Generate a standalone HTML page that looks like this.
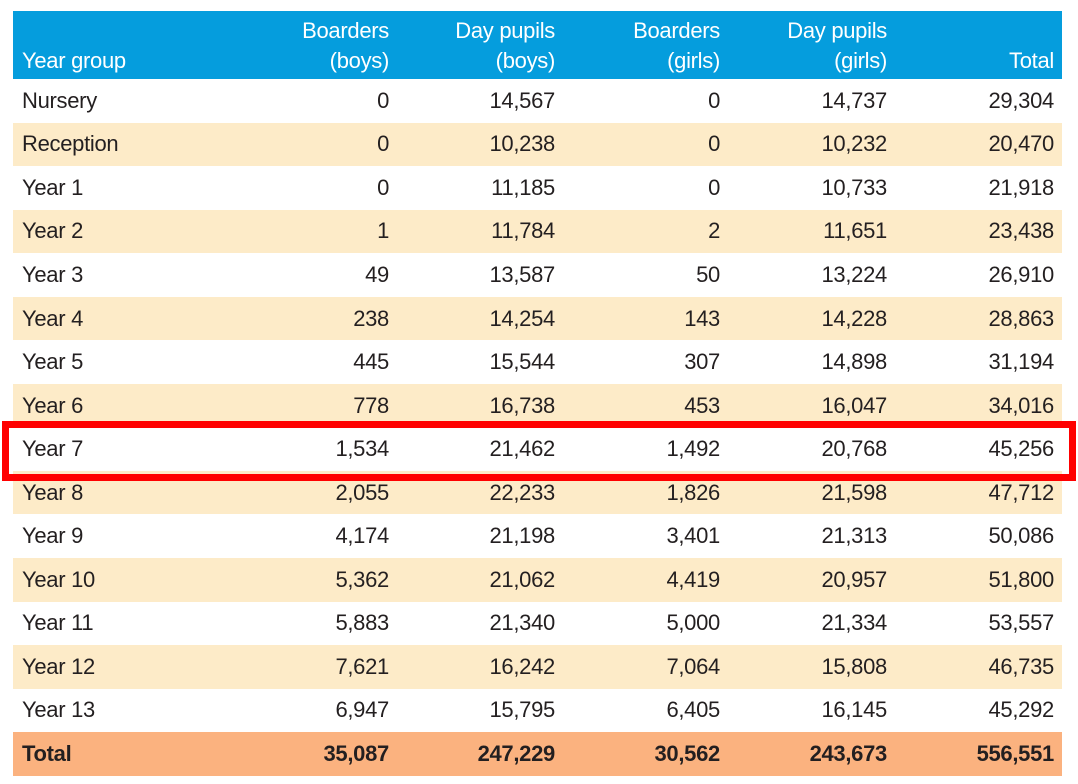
<!DOCTYPE html>
<html><head><meta charset="utf-8"><style>
body{margin:0;width:1078px;height:784px;background:#fff;position:relative;font-family:"Liberation Sans",sans-serif;color:#231f20;overflow:hidden}
table{position:absolute;left:13px;top:11px;width:1049px;border-collapse:collapse;table-layout:fixed}
td,th{padding:0;font-size:22px;letter-spacing:-0.3px;white-space:nowrap}
th{background:#059ddd;color:#fff;font-weight:normal;height:65px;vertical-align:bottom;line-height:30px;padding-bottom:3px;text-align:right}
tbody td{height:43.56px;text-align:right}
td.l,th.l{text-align:left;padding-left:9px}
.c1{width:376px}.c{width:166px}
.r{padding-right:8px}
tbody tr:nth-child(even){background:#fdebc8}
tr.tot{background:#fbb27f!important;font-weight:bold}
#hl{position:absolute;left:2px;top:421px;width:1060px;height:46px;border:7px solid #f00;}
</style></head><body>
<table>
<colgroup><col style="width:118px"><col style="width:258px"><col style="width:166px"><col style="width:165px"><col style="width:167px"><col style="width:175px"></colgroup>
<thead><tr>
<th class="l">Year group</th>
<th>Boarders<br>(boys)</th>
<th>Day pupils<br>(boys)</th>
<th>Boarders<br>(girls)</th>
<th>Day pupils<br>(girls)</th>
<th class="r">Total</th>
</tr></thead>
<tbody id="tb"></tbody>
</table>
<div id="hl"></div>
<script>
const rows=[["Nursery","0","14,567","0","14,737","29,304"],["Reception","0","10,238","0","10,232","20,470"],["Year 1","0","11,185","0","10,733","21,918"],["Year 2","1","11,784","2","11,651","23,438"],["Year 3","49","13,587","50","13,224","26,910"],["Year 4","238","14,254","143","14,228","28,863"],["Year 5","445","15,544","307","14,898","31,194"],["Year 6","778","16,738","453","16,047","34,016"],["Year 7","1,534","21,462","1,492","20,768","45,256"],["Year 8","2,055","22,233","1,826","21,598","47,712"],["Year 9","4,174","21,198","3,401","21,313","50,086"],["Year 10","5,362","21,062","4,419","20,957","51,800"],["Year 11","5,883","21,340","5,000","21,334","53,557"],["Year 12","7,621","16,242","7,064","15,808","46,735"],["Year 13","6,947","15,795","6,405","16,145","45,292"],["Total","35,087","247,229","30,562","243,673","556,551"]];
const tb=document.getElementById('tb');
rows.forEach((r,i)=>{const tr=document.createElement('tr');


if(r[0]==='Total')tr.className='tot';
r.forEach((v,j)=>{const td=document.createElement('td');td.textContent=v;


if(j===0)td.className='l';if(j===5)td.className='r';tr.appendChild(td);});
tb.appendChild(tr);});
</script>
</body></html>
